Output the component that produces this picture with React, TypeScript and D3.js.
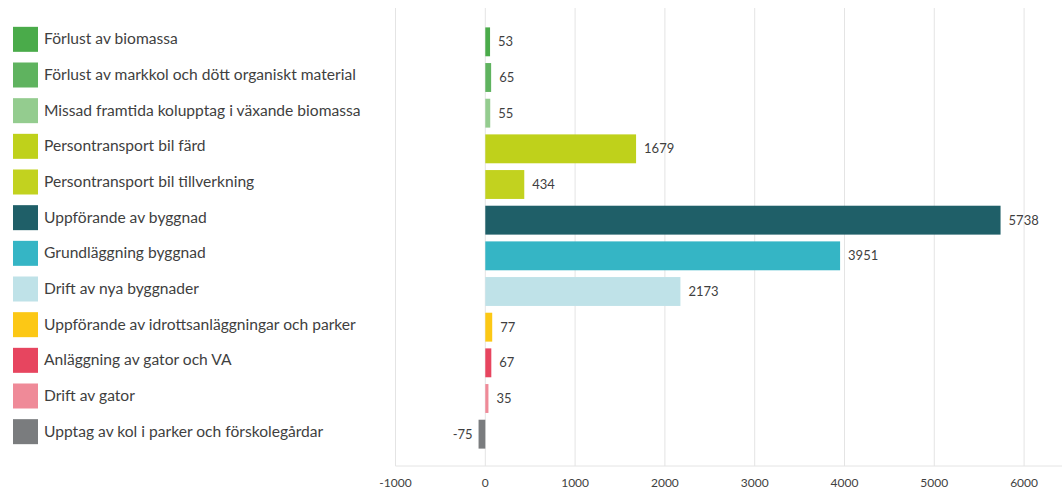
import React, { useEffect, useRef } from "react";
import * as d3 from "d3";

const categories = [
  "Förlust av biomassa",
  "Förlust av markkol och dött organiskt material",
  "Missad framtida kolupptag i växande biomassa",
  "Persontransport bil färd",
  "Persontransport bil tillverkning",
  "Uppförande av byggnad",
  "Grundläggning byggnad",
  "Drift av nya byggnader",
  "Uppförande av idrottsanläggningar och parker",
  "Anläggning av gator och VA",
  "Drift av gator",
  "Upptag av kol i parker och förskolegårdar",
];

const values = [53, 65, 55, 1679, 434, 5738, 3951, 2173, 77, 67, 35, -75];

const colors = [
  "#4aab4a",
  "#5fb35f",
  "#94cc8f",
  "#bfd11b",
  "#c2d21f",
  "#1f5f68",
  "#35b5c5",
  "#bfe2e8",
  "#fcc815",
  "#e7455f",
  "#ef8a98",
  "#7a7c7e",
];

const tickValues = [-1000, 0, 1000, 2000, 3000, 4000, 5000, 6000];

const W = 1062;
const H = 491;
const FONT = "Lato, 'Open Sans', sans-serif";
const TEXT = "#3f3f3f";

export default function App() {
  const ref = useRef<SVGSVGElement>(null);

  useEffect(() => {
    const svg = d3.select(ref.current);
    svg.selectAll("*").remove();

    const x = d3.scaleLinear().domain([-1000, 6400]).range([395.5, 1060]);
    const y = d3
      .scaleBand<string>()
      .domain(categories)
      .range([24, 452])
      .paddingInner(0.19)
      .paddingOuter(0.095);

    const plotTop = 8;
    const axisY = 466;

    svg
      .append("g")
      .selectAll("line")
      .data(tickValues)
      .join("line")
      .attr("x1", (d) => x(d))
      .attr("x2", (d) => x(d))
      .attr("y1", plotTop)
      .attr("y2", axisY)
      .attr("stroke", "#e4e4e4")
      .attr("stroke-width", 1);

    svg
      .append("line")
      .attr("x1", x(-1000))
      .attr("x2", W)
      .attr("y1", axisY)
      .attr("y2", axisY)
      .attr("stroke", "#e4e4e4")
      .attr("stroke-width", 1);

    svg
      .append("g")
      .selectAll("text")
      .data(tickValues)
      .join("text")
      .attr("x", (d) => x(d))
      .attr("y", 487)
      .attr("text-anchor", "middle")
      .attr("font-family", FONT)
      .attr("font-size", 12)
      .attr("fill", TEXT)
      .text((d) => String(d));

    const data = categories.map((c, i) => ({ c, v: values[i], col: colors[i] }));

    svg
      .append("g")
      .selectAll("rect")
      .data(data)
      .join("rect")
      .attr("x", (d) => x(Math.min(0, d.v)))
      .attr("width", (d) => Math.abs(x(d.v) - x(0)))
      .attr("y", (d) => y(d.c)!)
      .attr("height", y.bandwidth())
      .attr("fill", (d) => d.col);

    svg
      .append("g")
      .selectAll("text")
      .data(data)
      .join("text")
      .attr("x", (d) => (d.v >= 0 ? x(d.v) + 8 : x(d.v) - 6))
      .attr("y", (d) => y(d.c)! + y.bandwidth() / 2 + 4.5)
      .attr("text-anchor", (d) => (d.v >= 0 ? "start" : "end"))
      .attr("font-family", FONT)
      .attr("font-size", 13)
      .attr("fill", TEXT)
      .text((d) => String(d.v));

    const lg = svg
      .append("g")
      .selectAll("g")
      .data(data)
      .join("g")
      .attr(
        "transform",
        (d) => `translate(13, ${y(d.c)! + y.bandwidth() / 2 - 2.5})`
      );
    lg.append("rect")
      .attr("x", 0)
      .attr("y", -12.5)
      .attr("width", 25)
      .attr("height", 25)
      .attr("fill", (d) => d.col);
    lg.append("text")
      .attr("x", 31)
      .attr("y", 5)
      .attr("font-family", FONT)
      .attr("font-size", 15.6)
      .attr("fill", TEXT)
      .text((d) => d.c);
  }, []);

  return (
    <svg
      ref={ref}
      width={W}
      height={H}
      style={{ position: "absolute", left: 0, top: 0, background: "#fff" }}
    />
  );
}
